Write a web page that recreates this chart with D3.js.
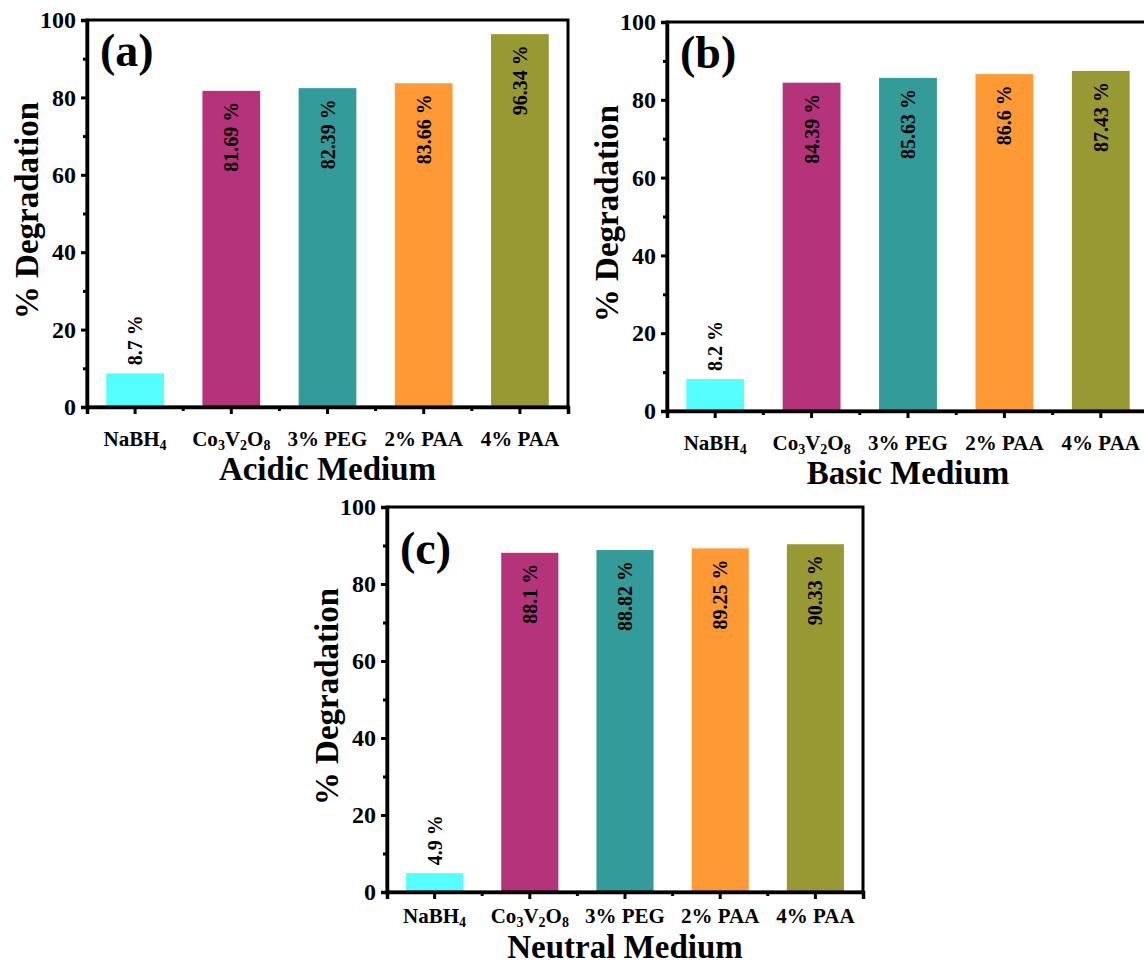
<!DOCTYPE html>
<html>
<head>
<meta charset="utf-8">
<script src="https://cdn.jsdelivr.net/npm/d3@7"></script>
<style>
  body { margin: 0; background: #fff; }
  svg text { font-family: "Liberation Serif", "Times New Roman", serif; font-weight: bold; fill: #000; }
</style>
</head>
<body>
<div id="chart"></div>
<script>
// data
var categories = ["NaBH4", "Co3V2O8", "3% PEG", "2% PAA", "4% PAA"];
var acidic = [8.7, 81.69, 82.39, 83.66, 96.34];
var basic = [8.2, 84.39, 85.63, 86.6, 87.43];
var neutral = [4.9, 88.1, 88.82, 89.25, 90.33];
var barColors = ["#55ffff", "#b5337a", "#339b99", "#ff9933", "#999933"];
var yTicks = [0, 20, 40, 60, 80, 100];
var yMinorTicks = [10, 30, 50, 70, 90];

var svg = d3.select('#chart')
    .append('svg')
    .attr('width', 1144)
    .attr('height', 965);

var panels = [
  {values: acidic, tag: "(a)", title: "Acidic Medium", left: 87, right: 568, top: 20, bottom: 407, tagDy: 46, catDy: 39, titleDy: 73},
  {values: basic, tag: "(b)", title: "Basic Medium", left: 667, right: 1149, top: 22, bottom: 411, tagDy: 46, catDy: 39, titleDy: 73},
  {values: neutral, tag: "(c)", title: "Neutral Medium", left: 387, right: 863, top: 507, bottom: 892, tagDy: 57, catDy: 31, titleDy: 66}
];

// chemical formulas get subscript digits, the % labels stay as they are
function writeLabel(sel, label) {
  if (label.indexOf('%') >= 0) { sel.text(label); return; }
  label.match(/[A-Za-z]+|\d+/g).forEach(function(part) {
    if (/\d/.test(part)) {
      sel.append('tspan').attr('baseline-shift', '-4px').style('font-size', '14px').text(part);
    } else {
      sel.append('tspan').text(part);
    }
  });
}

panels.forEach(function(p) {
  var x = d3.scaleBand()
      .domain(categories)
      .range([p.left, p.right])
      .paddingInner(0.4)
      .paddingOuter(0.2);
  var y = d3.scaleLinear().domain([0, 100]).range([p.bottom, p.top]);

  var g = svg.append('g');

  // bars
  g.selectAll('rect.bar')
      .data(p.values)
      .enter()
      .append('rect')
      .attr('class', 'bar')
      .attr('x', function(d, i){ return x(categories[i]); })
      .attr('width', x.bandwidth())
      .attr('y', function(d){ return y(d); })
      .attr('height', function(d){ return y(0) - y(d); })
      .attr('fill', function(d, i){ return barColors[i]; });

  // value labels, vertical; small bars get theirs above
  g.selectAll('text.val')
      .data(p.values)
      .enter()
      .append('text')
      .attr('class', 'val')
      .attr('transform', function(d, i){
        var cx = x(categories[i]) + x.bandwidth() / 2;
        var yy = d > 20 ? y(d) + 11 : y(d) - 8;
        return "translate(" + cx + "," + yy + ") rotate(-90)";
      })
      .attr('text-anchor', function(d){ return d > 20 ? 'end' : 'start'; })
      .attr('dy', '0.35em')
      .style('font-size', '20px')
      .text(function(d){ return d + " %"; });

  // frame
  g.append('rect')
      .attr('x', p.left).attr('y', p.top)
      .attr('width', p.right - p.left).attr('height', p.bottom - p.top)
      .attr('fill', 'none').attr('stroke', '#000').attr('stroke-width', 3);

  // y axis
  var yAxis = g.append('g')
      .attr('transform', 'translate(' + p.left + ',0)')
      .call(d3.axisLeft(y).tickValues(yTicks).tickSize(6).tickPadding(5));
  yAxis.select('.domain').attr('stroke-width', 3.5);
  yAxis.selectAll('.tick line').attr('stroke-width', 3);
  yAxis.selectAll('.tick text').style('font-size', '24px').style('font-family', '"Liberation Serif", serif');

  var yMinor = g.append('g')
      .attr('transform', 'translate(' + p.left + ',0)')
      .call(d3.axisLeft(y).tickValues(yMinorTicks).tickSize(4).tickFormat(''));
  yMinor.select('.domain').remove();
  yMinor.selectAll('.tick text').remove();
  yMinor.selectAll('.tick line').attr('stroke-width', 3);

  // x axis
  var xAxis = g.append('g')
      .attr('transform', 'translate(0,' + p.bottom + ')')
      .call(d3.axisBottom(x).tickSize(7).tickFormat(''));
  xAxis.select('.domain').attr('stroke-width', 3.5);
  xAxis.selectAll('.tick text').remove();
  xAxis.selectAll('.tick line').attr('stroke-width', 3);

  var mids = d3.range(1, categories.length).map(function(i){ return (x(categories[i - 1]) + x(categories[i]) + x.bandwidth()) / 2; });
  g.selectAll('line.xminor')
      .data(mids)
      .enter()
      .append('line')
      .attr('x1', function(d){ return d; }).attr('x2', function(d){ return d; })
      .attr('y1', p.bottom).attr('y2', p.bottom + 4)
      .attr('stroke', '#000').attr('stroke-width', 3);

  g.selectAll('text.cat')
      .data(categories)
      .enter()
      .append('text')
      .attr('class', 'cat')
      .attr('x', function(d){ return x(d) + x.bandwidth() / 2; })
      .attr('y', p.bottom + p.catDy)
      .attr('text-anchor', 'middle')
      .style('font-size', '21px')
      .each(function(d){ writeLabel(d3.select(this), d); });

  // titles
  g.append('text')
      .attr('x', (p.left + p.right) / 2)
      .attr('y', p.bottom + p.titleDy)
      .attr('text-anchor', 'middle')
      .style('font-size', '33px')
      .text(p.title);

  g.append('text')
      .attr('transform', 'translate(' + (p.left - 49) + ',' + ((p.top + p.bottom) / 2 - 3) + ') rotate(-90)')
      .attr('text-anchor', 'middle')
      .style('font-size', '33px')
      .text('% Degradation');

  g.append('text')
      .attr('x', p.left + 13)
      .attr('y', p.top + p.tagDy)
      .style('font-size', '46px')
      .text(p.tag);
});
</script>
</body>
</html>
